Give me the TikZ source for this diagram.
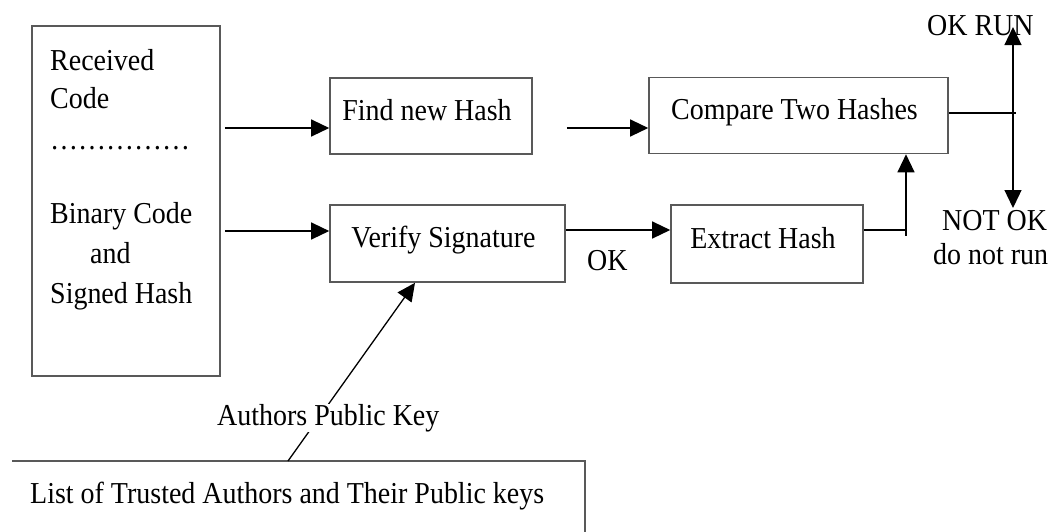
\documentclass[tikz,border=0pt]{standalone}
\usepackage{fontspec}
\setmainfont{Liberation Serif}[FakeStretch=0.92]
\usetikzlibrary{arrows.meta}
\tikzset{
  txt/.style={font=\fontsize{30.4}{36}\selectfont, inner sep=0pt},
  blk/.style={draw=black!65, line width=1.6pt, txt, text height=21pt, text depth=13pt},
  edge line/.style={draw=black!65, line width=1.6pt},
  conn/.style={line width=1.3pt, black},
  arr/.style={conn, -{Triangle[length=18pt,width=17pt]}},
}
\begin{document}
\begin{tikzpicture}[x=1pt,y=-1pt]
\useasboundingbox (0,0) rectangle (1053,531);
% left box
\node[blk, minimum width=188pt, minimum height=350pt] (src) at (126,201) {};
\node[txt, anchor=base west] (t1) at (50,70) {Received};
\node[txt, anchor=base west] (t2) at (50,108) {Code};
\node[txt, anchor=base west] (t3) at (50,149) {……………};
\node[txt, anchor=base west] (t4) at (50,223) {Binary Code};
\node[txt, anchor=base west] (t5) at (90,263) {and};
\node[txt, anchor=base west] (t6) at (50,303) {Signed Hash};
% process boxes
\node[blk, minimum width=202pt, minimum height=76pt] (find) at (431,116) {Find new Hash\kern8pt};
\node[blk, minimum width=299pt, minimum height=76pt] (cmp) at (798.5,115.5) {Compare Two Hashes\kern8pt};
\node[blk, minimum width=235pt, minimum height=77pt] (ver) at (447.5,243.5) {Verify Signature\kern8pt};
\node[blk, minimum width=192pt, minimum height=78pt] (ext) at (767,244) {Extract Hash\kern8pt};
% labels
\node[txt, anchor=base west] (ok) at (587,270) {OK};
\node[txt, anchor=base west] (okrun) at (927,35) {OK RUN};
\node[txt, anchor=base west] (notok) at (942,230) {NOT OK};
\node[txt, anchor=base west] (dnr) at (933,264) {do not run};
% bottom box
\draw[edge line] (12,461) -- (585,461) -- (585,535);
\node[txt, anchor=base west] (list) at (30,503) {List of Trusted Authors and Their Public keys};
% connectors
\coordinate (a1) at (0,128);
\coordinate (a2) at (0,231);
\coordinate (a3) at (0,128);
\coordinate (a4) at (0,230);
\draw[arr] ([xshift=4pt]src.east |- a1) -- (find.west |- a1);
\draw[arr] ([xshift=4pt]src.east |- a2) -- (ver.west |- a2);
\draw[arr] ([xshift=34pt]find.east |- a3) -- (cmp.west |- a3);
\draw[arr] (ver.east |- a4) -- (ext.west |- a4);
\coordinate (j1) at (906,230);
\draw[arr] (ext.east |- j1) -- (j1) -- (j1 |- cmp.south);
\draw[conn] (j1) -- ++(0,6);
\coordinate (sp) at (1013,113);
\coordinate (up) at (1013,27);
\coordinate (dn) at (1013,208);
\draw[conn] (cmp.east |- sp) -- ([xshift=3pt]sp);
\draw[arr] (sp) -- (up);
\draw[arr] (sp) -- (dn);
\coordinate (kt) at (288,461);
\coordinate (kx) at (415,0);
\draw[arr] (kt) -- (ver.south -| kx);
\node[txt, anchor=base west, fill=white] (key) at (217,425) {Authors Public Key};
\end{tikzpicture}
\end{document}
